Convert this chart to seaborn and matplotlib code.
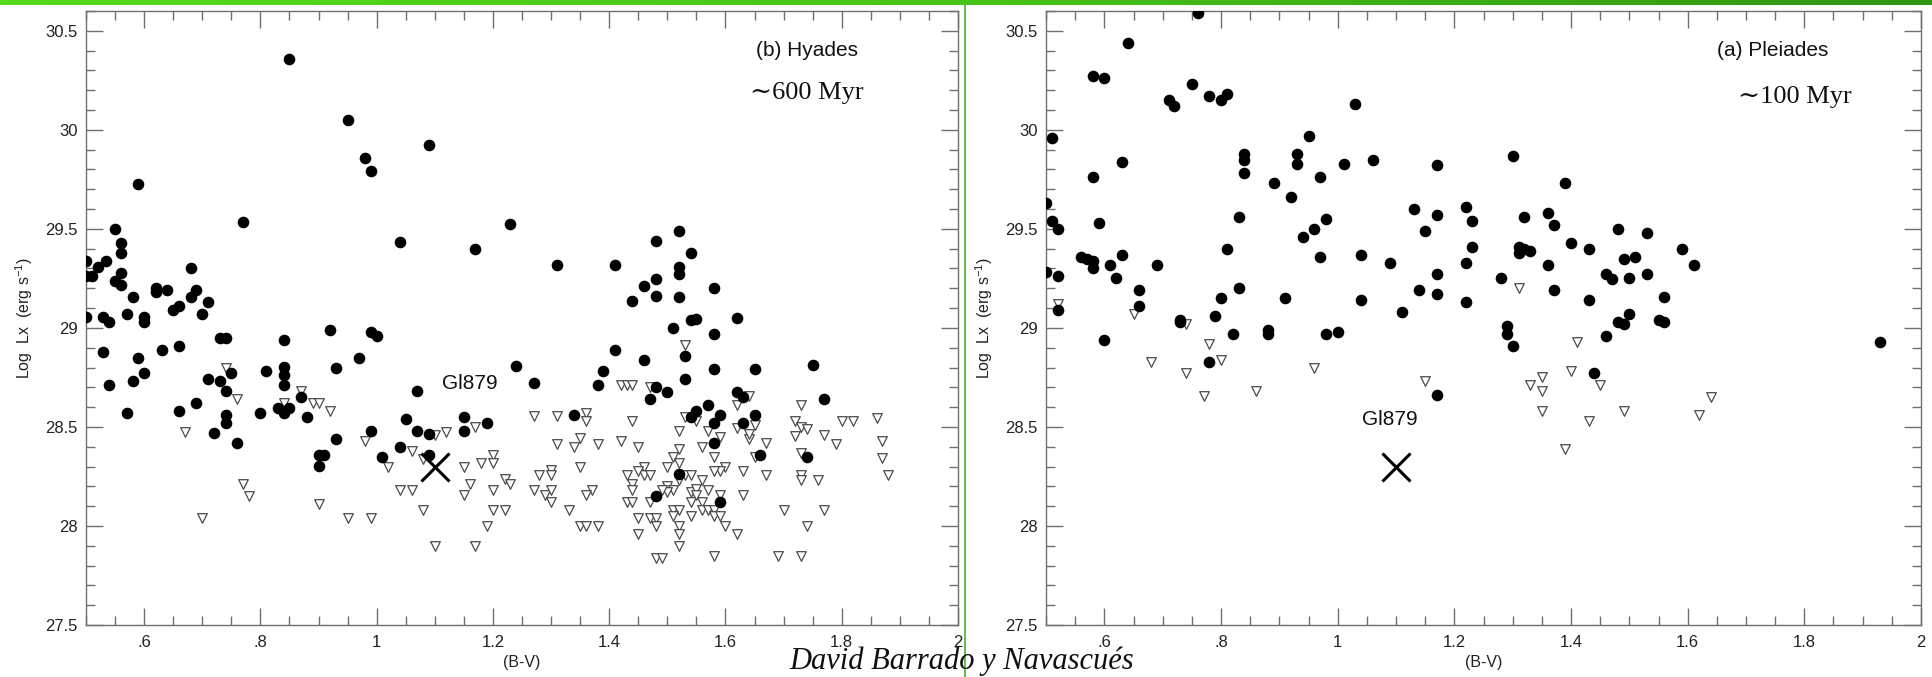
import numpy as np
import pandas as pd
import seaborn as sns
import matplotlib.pyplot as plt
from matplotlib.lines import Line2D
from matplotlib.ticker import MultipleLocator, FuncFormatter

# ---- Hyades: X-ray detections (filled circles)
hya_det_bv = [0.50, 0.50, 0.51, 0.50, 0.52, 0.535, 0.55, 0.56, 0.56, 0.55, 0.56, 0.56, 0.58, 0.57,
              0.53, 0.54, 0.60, 0.60, 0.59, 0.62, 0.62, 0.64, 0.65, 0.66, 0.68, 0.68, 0.69, 0.70,
              0.71, 0.77, 0.73, 0.74, 0.84, 0.92, 0.99, 1.00, 0.85, 0.95, 0.98, 0.99, 1.09, 1.04,
              1.17, 1.23, 1.31, 1.41, 1.48, 1.52, 1.54, 1.52, 1.52, 1.48, 1.46, 1.44, 1.48, 1.52,
              1.58, 1.54, 1.55, 1.51, 1.58, 1.62, 1.53, 1.41, 1.46, 1.24, 1.39, 1.58, 1.65, 1.75,
              1.27, 1.38, 1.53, 1.48, 1.50, 1.47, 1.62, 1.63, 1.77, 1.57, 1.55, 1.54, 1.59, 1.58,
              1.65, 1.63, 1.34, 1.15, 1.19, 1.15, 1.58, 1.66, 1.74, 1.52, 1.48, 1.59, 0.53, 0.54,
              0.57, 0.58, 0.59, 0.60, 0.63, 0.66, 0.66, 0.69, 0.71, 0.72, 0.73, 0.74, 0.74, 0.74,
              0.75, 0.76, 0.80, 0.81, 0.83, 0.84, 0.84, 0.84, 0.84, 0.85, 0.87, 0.88, 0.90, 0.91,
              0.90, 0.93, 0.93, 0.97, 0.99, 1.01, 1.04, 1.05, 1.07, 1.07, 1.09, 1.09]
hya_det_lx = [29.34, 29.26, 29.26, 29.055, 29.305, 29.34, 29.50, 29.43, 29.38, 29.235, 29.275, 29.215,
              29.155, 29.07, 29.055, 29.03, 29.055, 29.03, 29.725, 29.20, 29.18, 29.19, 29.09, 29.11,
              29.30, 29.155, 29.19, 29.07, 29.13, 29.535, 28.95, 28.95, 28.94, 28.99, 28.98, 28.96,
              30.36, 30.05, 29.86, 29.79, 29.925, 29.435, 29.40, 29.525, 29.32, 29.32, 29.44, 29.49,
              29.38, 29.31, 29.27, 29.245, 29.21, 29.135, 29.16, 29.155, 29.20, 29.04, 29.045, 29.00,
              28.97, 29.05, 28.86, 28.89, 28.84, 28.81, 28.78, 28.79, 28.795, 28.815, 28.72, 28.71,
              28.74, 28.70, 28.675, 28.64, 28.675, 28.65, 28.64, 28.61, 28.58, 28.55, 28.56, 28.52,
              28.56, 28.52, 28.56, 28.55, 28.52, 28.48, 28.42, 28.36, 28.35, 28.26, 28.15, 28.12,
              28.88, 28.71, 28.57, 28.73, 28.85, 28.77, 28.89, 28.91, 28.58, 28.62, 28.74, 28.47,
              28.73, 28.68, 28.56, 28.52, 28.77, 28.42, 28.57, 28.78, 28.595, 28.805, 28.76, 28.71,
              28.57, 28.595, 28.65, 28.55, 28.36, 28.36, 28.305, 28.80, 28.44, 28.85, 28.48, 28.35,
              28.40, 28.54, 28.68, 28.48, 28.465, 28.36]

# ---- Hyades: upper limits (open triangles)
hya_lim_bv = [0.67, 0.70, 0.74, 0.76, 0.77, 0.78, 0.84, 0.87, 0.89, 0.90, 0.90, 0.92, 0.95, 0.98,
              0.99, 1.02, 1.04, 1.06, 1.06, 1.08, 1.08, 1.10, 1.10, 1.12, 1.15, 1.15, 1.16, 1.17,
              1.17, 1.18, 1.19, 1.20, 1.20, 1.20, 1.20, 1.22, 1.22, 1.23,
              1.27, 1.31, 1.36, 1.36, 1.44, 1.42, 1.43, 1.44, 1.47, 1.31, 1.34, 1.35, 1.38, 1.42,
              1.45, 1.27, 1.28, 1.30, 1.30, 1.29, 1.30, 1.30, 1.35, 1.37, 1.36, 1.33, 1.35, 1.36,
              1.38, 1.43, 1.44, 1.44, 1.43, 1.44, 1.45, 1.45, 1.46, 1.46, 1.47, 1.47, 1.47, 1.48,
              1.48, 1.49, 1.50, 1.50, 1.51, 1.45, 1.48,
              1.53, 1.53, 1.55, 1.52, 1.57, 1.52, 1.51, 1.52, 1.56, 1.58, 1.59, 1.62, 1.62, 1.64,
              1.64, 1.64, 1.65, 1.67, 1.65, 1.53, 1.54, 1.52, 1.56, 1.54, 1.55, 1.57, 1.56, 1.54,
              1.56, 1.57, 1.58, 1.55, 1.58, 1.59, 1.59, 1.60, 1.59, 1.58, 1.63, 1.63, 1.67, 1.51,
              1.52, 1.51, 1.52, 1.52, 1.52, 1.54, 1.60, 1.62, 1.58, 1.73, 1.72, 1.73, 1.74, 1.72,
              1.77, 1.79, 1.80, 1.82, 1.86, 1.87, 1.87, 1.88, 1.73, 1.73, 1.73, 1.76, 1.70, 1.77,
              1.74, 1.69, 1.73, 1.50, 1.49]
hya_lim_lx = [28.475, 28.04, 28.80, 28.64, 28.21, 28.15, 28.62, 28.68, 28.62, 28.62, 28.11, 28.58,
              28.04, 28.43, 28.04, 28.30, 28.18, 28.18, 28.38, 28.34, 28.08, 28.46, 27.90, 28.475,
              28.30, 28.155, 28.21, 28.50, 27.90, 28.32, 28.00, 28.36, 28.32, 28.18, 28.08, 28.08,
              28.235, 28.21,
              28.555, 28.555, 28.57, 28.53, 28.53, 28.71, 28.71, 28.71, 28.70, 28.415, 28.40, 28.445,
              28.415, 28.43, 28.40, 28.18, 28.255, 28.285, 28.255, 28.155, 28.18, 28.12, 28.30, 28.18,
              28.155, 28.08, 28.00, 28.00, 28.00, 28.255, 28.21, 28.18, 28.12, 28.12, 28.04, 27.96,
              28.30, 28.255, 28.255, 28.12, 28.04, 28.04, 27.84, 27.84, 28.30, 28.20, 28.18, 28.28,
              28.00,
              28.915, 28.55, 28.53, 28.48, 28.48, 28.39, 28.35, 28.32, 28.40, 28.35, 28.45, 28.495,
              28.61, 28.655, 28.44, 28.465, 28.51, 28.42, 28.35, 28.255, 28.255, 28.23, 28.23, 28.17,
              28.185, 28.18, 28.12, 28.12, 28.08, 28.08, 28.08, 28.155, 28.05, 28.05, 28.155, 28.30,
              28.28, 28.28, 28.28, 28.155, 28.255, 28.08, 28.08, 28.05, 28.00, 27.96, 27.90, 28.05,
              28.00, 27.96, 27.85, 28.61, 28.53, 28.50, 28.49, 28.455, 28.46, 28.415, 28.53, 28.53,
              28.545, 28.43, 28.345, 28.255, 28.37, 28.255, 28.23, 28.23, 28.08, 28.08, 28.00, 27.85,
              27.85, 28.17, 28.18]

# ---- Pleiades: X-ray detections (filled circles)
ple_det_bv = [0.76, 0.64, 0.58, 0.60, 0.75, 0.71, 0.72, 0.78, 0.80, 0.81, 1.03, 0.51, 0.63, 0.58,
              0.84, 0.84, 0.84, 0.95, 0.93, 0.93, 1.01, 1.06, 0.97, 0.89, 0.92, 1.17, 0.50, 0.51,
              0.52, 0.59, 0.83, 0.98, 0.96, 0.94, 1.13, 1.17, 1.15, 0.81, 0.56, 0.57, 0.58, 0.58,
              0.61, 0.63, 0.62, 0.50, 0.52, 0.69, 0.97, 1.04, 1.09, 1.17, 0.66, 0.66, 0.83, 0.80,
              0.91, 1.04, 1.14, 1.17, 0.52, 1.11, 0.79, 0.73, 0.73, 0.60, 0.82, 0.88, 0.88, 0.98,
              1.00, 0.78, 1.17, 1.30, 1.39, 1.22, 1.23, 1.32, 1.36, 1.37, 1.23, 1.22, 1.31, 1.32,
              1.33, 1.31, 1.40, 1.43, 1.36, 1.28, 1.37, 1.43, 1.48, 1.53, 1.59, 1.61, 1.49, 1.51,
              1.46, 1.47, 1.50, 1.53, 1.56, 1.50, 1.48, 1.49, 1.55, 1.56, 1.46, 1.22, 1.29, 1.29,
              1.30, 1.93, 1.44]
ple_det_lx = [30.59, 30.44, 30.27, 30.26, 30.23, 30.15, 30.12, 30.17, 30.15, 30.18, 30.13, 29.96,
              29.84, 29.76, 29.88, 29.85, 29.78, 29.97, 29.88, 29.83, 29.83, 29.85, 29.76, 29.73,
              29.66, 29.82, 29.63, 29.54, 29.50, 29.53, 29.56, 29.55, 29.50, 29.46, 29.60, 29.57,
              29.49, 29.40, 29.36, 29.35, 29.34, 29.30, 29.32, 29.37, 29.25, 29.28, 29.26, 29.32,
              29.36, 29.37, 29.33, 29.27, 29.19, 29.11, 29.20, 29.15, 29.15, 29.14, 29.19, 29.17,
              29.09, 29.08, 29.06, 29.04, 29.03, 28.94, 28.97, 28.99, 28.97, 28.97, 28.98, 28.83,
              28.66, 29.87, 29.73, 29.61, 29.54, 29.56, 29.58, 29.52, 29.41, 29.33, 29.41, 29.40,
              29.39, 29.38, 29.43, 29.40, 29.32, 29.25, 29.19, 29.14, 29.50, 29.48, 29.40, 29.32,
              29.35, 29.36, 29.27, 29.245, 29.25, 29.27, 29.155, 29.07, 29.03, 29.02, 29.04, 29.03,
              28.96, 29.13, 29.01, 28.97, 28.91, 28.93, 28.77]

# ---- Pleiades: upper limits (open triangles)
ple_lim_bv = [0.52, 0.65, 0.74, 0.78, 0.80, 0.68, 0.74, 0.77, 0.86, 0.96, 1.15, 1.31, 1.41, 1.40,
              1.35, 1.33, 1.35, 1.45, 1.35, 1.49, 1.43, 1.39, 1.64, 1.62]
ple_lim_lx = [29.12, 29.07, 29.02, 28.92, 28.84, 28.83, 28.77, 28.655, 28.68, 28.80, 28.73, 29.20,
              28.93, 28.78, 28.75, 28.71, 28.68, 28.71, 28.58, 28.58, 28.53, 28.39, 28.65, 28.56]

# ---- Gl 879 and its label positions
gl879_bv, gl879_lx = 1.10, 28.30
gl879_label = {"hya": (1.16, 28.72), "ple": (1.09, 28.54)}

panels = [
    ("hya", hya_det_bv, hya_det_lx, hya_lim_bv, hya_lim_lx, "(b) Hyades", "~600 Myr", 0.827, 0.866),
    ("ple", ple_det_bv, ple_det_lx, ple_lim_bv, ple_lim_lx, "(a) Pleiades", "~100 Myr", 0.856, 0.860),
]
panel_title_x = {"hya": 0.827, "ple": 0.831}

sns.set_style("ticks")
plt.rcParams["font.family"] = ["Liberation Sans", "DejaVu Sans"]
plt.rcParams["mathtext.fontset"] = "custom"
plt.rcParams["mathtext.rm"] = "Liberation Sans"

W, H = 1933, 677
fig = plt.figure(figsize=(W / 100, H / 100), dpi=100)
fig.patch.set_facecolor("white")

axes_px = {"hya": (86, 958), "ple": (1046, 1921)}
top_px, bot_px = 11, 625

frame_col = "#707070"


def bv_fmt(v, _):
    s = f"{v:g}"
    return s[1:] if s.startswith("0.") else s


for key, dbv, dlx, lbv, llx, title, age, age_x, age_y in panels:
    x0, x1 = axes_px[key]
    ax = fig.add_axes([x0 / W, 1 - bot_px / H, (x1 - x0) / W, (bot_px - top_px) / H])

    lim = pd.DataFrame({"bv": lbv, "lx": llx})
    det = pd.DataFrame({"bv": dbv, "lx": dlx})
    sns.scatterplot(data=lim, x="bv", y="lx", ax=ax, marker="v", s=48,
                    color="white", edgecolor="#4a4a4a", linewidth=0.9, zorder=2)
    sns.scatterplot(data=det, x="bv", y="lx", ax=ax, marker="o", s=70,
                    color="black", edgecolor="black", linewidth=0, zorder=3)
    ax.plot([gl879_bv], [gl879_lx], marker="x", ms=20, mew=2.2, color="black",
            ls="none", zorder=4)
    lx_, ly_ = gl879_label[key]
    ax.text(lx_, ly_, "Gl879", ha="center", va="center", fontsize=15, color="#111111")

    ax.set_xlim(0.5, 2.0)
    ax.set_ylim(27.5, 30.6)
    ax.xaxis.set_major_locator(MultipleLocator(0.2))
    ax.xaxis.set_minor_locator(MultipleLocator(0.05))
    ax.yaxis.set_major_locator(MultipleLocator(0.5))
    ax.yaxis.set_minor_locator(MultipleLocator(0.1))
    ax.xaxis.set_major_formatter(FuncFormatter(bv_fmt))
    ax.yaxis.set_major_formatter(FuncFormatter(lambda v, _: f"{v:g}"))

    ax.tick_params(which="both", direction="in", top=True, right=True,
                   color=frame_col, width=1.0, labelsize=12, labelcolor="#222222")
    ax.tick_params(which="major", length=12.5)
    ax.tick_params(which="minor", length=6.5)
    ax.tick_params(axis="x", pad=7)
    ax.tick_params(axis="y", pad=6)
    for sp in ax.spines.values():
        sp.set_color(frame_col)
        sp.set_linewidth(1.0)

    ax.set_xlabel("(B-V)", fontsize=11.5, labelpad=4, color="#222222")
    ax.set_ylabel("Log  Lx  (erg s$^{-1}$)", fontsize=11.5, labelpad=7, color="#222222")

    ax.text(panel_title_x[key], 0.935, title, transform=ax.transAxes,
            ha="center", va="center", fontsize=15, color="#111111")
    ax.text(age_x, age_y, age.replace("~", "\u223c"), transform=ax.transAxes,
            ha="center", va="center", fontsize=19, color="#111111",
            family=["Liberation Serif", "DejaVu Serif"])

# green slide decorations
bar = fig.add_axes([0, 1 - 5 / H, 1, 5 / H])
grad = np.linspace(0, 1, 256).reshape(1, -1)
from matplotlib.colors import LinearSegmentedColormap
cmap = LinearSegmentedColormap.from_list("g", ["#55da1c", "#48c418", "#2f960f"])
bar.imshow(grad, aspect="auto", cmap=cmap)
bar.set_axis_off()
fig.add_artist(Line2D([965 / W, 965 / W], [0, 1 - 5 / H], transform=fig.transFigure,
                      color="#45b020", lw=1.2))

fig.text(962 / W, 1 - 661 / H, "David Barrado y Navascués", ha="center", va="center",
         fontsize=22, style="italic", family=["Liberation Serif", "DejaVu Serif"],
         color="#111111")

fig.savefig("out.png", dpi=100)
